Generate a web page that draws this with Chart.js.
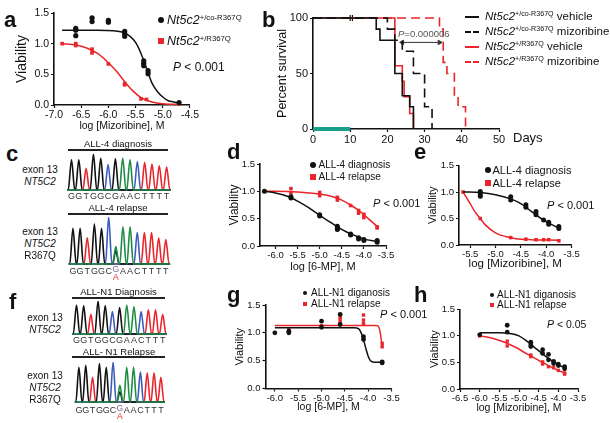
<!DOCTYPE html>
<html>
<head>
<meta charset="utf-8">
<script src="https://cdn.jsdelivr.net/npm/chart.js@4"></script>
<style>
  body { margin: 0; width: 610px; height: 423px; position: relative; overflow: hidden; background: #fff;
         font-family: "Liberation Sans", Arial, sans-serif; color: #111; }
  canvas { position: absolute; }
  .t { position: absolute; white-space: nowrap; line-height: 1; }
  .t sup { font-size: .62em; vertical-align: baseline; position: relative; top: -.55em; }
  .mk, .rule, .seg { position: absolute; }
</style>
</head>
<body>
<script>
/**
 * Nt5c2 R367Q figure - panels a to h
 */
Chart.defaults.font.family = '"Liberation Sans", Arial, sans-serif';
Chart.defaults.color = '#111';
Chart.defaults.animation = false;

const BLACK = '#111';
const RED = '#e8262b';

// ---- panel a: mizoribine, mouse cells ----
const aTicksX = [-7.0, -6.5, -6.0, -5.5, -5.0, -4.5];
const viaTicks = [0, 0.5, 1.0, 1.5];
const aCoDose = [-6.6, -6.3, -6.0, -5.7, -5.35, -5.27, -4.7];
const aCoVia = [[1.25, 1.22, 1.13], [1.42, 1.36], [1.38, 1.35], [1.2, 1.16, 1.12], [0.72, 0.68, 0.64], [0.56, 0.51], [0.04]];
const aCoFitX = [-6.85, -6.2, -5.9, -5.75, -5.6, -5.5, -5.4, -5.3, -5.2, -5.1, -5.0, -4.9, -4.8, -4.7];
const aCoFitY = [1.22, 1.22, 1.21, 1.19, 1.12, 1.02, 0.84, 0.6, 0.36, 0.22, 0.13, 0.07, 0.05, 0.03];
const aMutDose = [-6.85, -6.6, -6.3, -6.0, -5.7, -5.4, -5.3, -4.7];
const aMutVia = [[1.0], [1.0, 0.97], [0.91, 0.85], [0.67], [0.35, 0.33], [0.1], [0.09], [0.02]];
const aMutFitX = [-6.85, -6.6, -6.4, -6.2, -6.0, -5.85, -5.7, -5.55, -5.4, -5.2, -5.0, -4.7];
const aMutFitY = [1.0, 0.98, 0.93, 0.84, 0.69, 0.55, 0.38, 0.23, 0.12, 0.05, 0.02, 0.01];

// ---- panel b: survival ----
const bTicksX = [0, 10, 20, 30, 40, 50];
const bTicksY = [0, 50, 100];
const coVehDays = [0, 17, 18, 22, 24, 26, 27];
const coVehSurv = [100, 90, 80, 50, 30, 20, 0];
const coMizDays = [0, 20, 22, 24, 27, 30, 32];
const coMizSurv = [100, 90, 80, 70, 50, 20, 0];
const mutVehDays = [0, 22, 24, 24.5, 26, 27];
const mutVehSurv = [100, 57, 43, 29, 14, 0];
const mutMizDays = [0, 34, 35, 36, 38, 39, 41];
const mutMizSurv = [100, 90, 60, 50, 30, 20, 0];
const censorDays = [10, 10.6];
const treatDays = [0, 10];
const pArrowDays = [24, 34];
const pArrowSurv = 78;

// ---- panel d: ALL-4, 6-MP ----
const dTicksX = [-6.0, -5.5, -5.0, -4.5, -4.0, -3.5];
const dDose = [-6.25, -5.65, -5.0, -4.6, -4.3, -4.12, -4.0, -3.7];
const dDxVia = [[1.0], [0.9, 0.88], [0.57, 0.55], [0.36, 0.32, 0.3], [0.22, 0.2], [0.15, 0.13], [0.12, 0.1], [0.1, 0.07]];
const dDxFitX = [-6.25, -6.0, -5.7, -5.5, -5.25, -5.0, -4.75, -4.6, -4.4, -4.2, -4.0, -3.7];
const dDxFitY = [1.0, 0.97, 0.9, 0.82, 0.7, 0.56, 0.43, 0.35, 0.26, 0.19, 0.13, 0.08];
const dRelVia = [[1.0], [1.05, 0.97], [0.98, 0.92], [0.89, 0.84], [0.74], [0.65, 0.6], [0.58, 0.52], [0.35, 0.33]];
const dRelFitX = [-6.25, -6.0, -5.5, -5.0, -4.7, -4.5, -4.3, -4.1, -3.9, -3.7];
const dRelFitY = [1.0, 1.0, 0.99, 0.95, 0.9, 0.84, 0.75, 0.64, 0.5, 0.36];

// ---- panel e: ALL-4, mizoribine ----
const eTicksX = [-5.5, -5.0, -4.5, -4.0, -3.5];
const eDxDose = [-5.3, -4.7, -4.4, -4.2, -4.05, -3.95, -3.75];
const eDxVia = [[1.01, 0.96, 0.92], [0.91, 0.85], [0.76, 0.71], [0.63, 0.57], [0.47], [0.43, 0.39], [0.35, 0.31]];
const eDxFitX = [-5.64, -5.3, -5.0, -4.7, -4.5, -4.3, -4.1, -3.9, -3.75];
const eDxFitY = [1.0, 0.99, 0.95, 0.87, 0.78, 0.64, 0.5, 0.39, 0.32];
const eRelDose = [-5.64, -5.3, -4.7, -4.4, -4.2, -4.05, -3.95, -3.75];
const eRelVia = [[1.0], [0.5], [0.14], [0.11], [0.1], [0.1], [0.1], [0.08]];
const eRelFitX = [-5.64, -5.5, -5.4, -5.3, -5.2, -5.0, -4.8, -4.6, -4.3, -3.75];
const eRelFitY = [1.0, 0.78, 0.62, 0.5, 0.38, 0.23, 0.16, 0.12, 0.1, 0.09];

// ---- panel g: ALL-N1, 6-MP ----
const gTicksX = [-6.0, -5.5, -5.0, -4.5, -4.0, -3.5];
const gDxDose = [-6.0, -5.7, -5.0, -4.6, -4.1, -3.7];
const gDxVia = [[1.0], [1.03, 1.0], [1.21, 1.1], [1.33, 1.15], [0.93, 0.88], [0.48, 0.46]];
const gDxFitX = [-6.0, -4.3, -4.2, -4.15, -4.1, -4.05, -4.0, -3.95, -3.85, -3.7];
const gDxFitY = [1.09, 1.09, 1.07, 1.0, 0.88, 0.72, 0.58, 0.5, 0.47, 0.47];
const gRelDose = [-5.7, -5.0, -4.6, -4.1, -3.7];
const gRelVia = [[1.06], [1.13], [1.28, 1.24, 1.19], [1.32, 1.23, 1.17], [0.81, 0.75]];
const gRelFitX = [-6.0, -3.82, -3.77, -3.74, -3.72, -3.7];
const gRelFitY = [1.13, 1.13, 1.1, 1.0, 0.88, 0.78];

// ---- panel h: ALL-N1, mizoribine ----
const hTicksX = [-6.5, -6.0, -5.5, -5.0, -4.5, -4.0, -3.5];
const hDose = [-6.0, -5.3, -4.7, -4.4, -4.25, -4.12, -4.0, -3.84];
const hDxVia = [[1.02], [1.2, 1.07], [0.88, 0.83, 0.8], [0.74, 0.67], [0.65, 0.55], [0.52, 0.48], [0.47, 0.44], [0.42, 0.38]];
const hDxFitX = [-6.0, -5.5, -5.2, -5.0, -4.8, -4.6, -4.4, -4.2, -4.0, -3.84];
const hDxFitY = [1.06, 1.06, 1.04, 1.0, 0.9, 0.78, 0.66, 0.55, 0.46, 0.4];
const hRelVia = [[1.0], [0.9, 0.81], [0.64, 0.61], [0.51, 0.47], [0.42], [0.4], [0.35], [0.3, 0.28]];
const hRelFitX = [-6.0, -5.7, -5.4, -5.1, -4.8, -4.5, -4.2, -4.0, -3.84];
const hRelFitY = [1.0, 0.96, 0.89, 0.79, 0.66, 0.54, 0.42, 0.35, 0.3];

// ---- panels c and f: sequencing traces (relative peak heights) ----
const c4DxSeq = 'GGTGGCGAACTTTT';
const c4DxPeaks = [0.84, 0.84, 0.6, 1.0, 0.88, 0.71, 0.87, 0.88, 0.84, 0.79, 0.77, 0.72, 0.67, 0.64];
const c4RelSeq = 'GGTGGCAAACTTTT';
const c4RelPeaks = [0.76, 0.76, 0.56, 0.85, 0.76, 1.0, 0.37, 0.79, 0.79, 0.67, 0.67, 0.67, 0.55, 0.52];
const c4RelMinor = [[6, 'G', 0.28]];
const n1DxSeq = 'GGTGGCGAACTTT';
const n1DxPeaks = [0.88, 0.86, 0.6, 1.0, 0.86, 0.68, 0.8, 0.88, 0.83, 0.68, 0.73, 0.73, 0.6];
const n1RelSeq = 'GGTGGCAAACTTT';
const n1RelPeaks = [0.87, 0.92, 0.62, 0.96, 0.87, 1.0, 0.42, 0.87, 0.87, 0.75, 0.73, 0.73, 0.62];
const n1RelMinor = [[6, 'G', 0.25]];
const mixedIndex = 6;

const BASE_COLORS = { A: '#1f8c45', C: '#3b5bbd', T: '#e8262b', G: '#111' };

// ---------- helpers ----------
function addCanvas(left, top, w, h) {
    const c = document.createElement('canvas');
    c.width = w; c.height = h;
    c.style.left = left + 'px'; c.style.top = top + 'px';
    c.style.width = w + 'px'; c.style.height = h + 'px';
    document.body.appendChild(c);
    return c;
}

function txt(html, x, cy, size, extra) {
    const d = document.createElement('div');
    d.className = 't';
    d.innerHTML = html;
    d.style.left = x + 'px';
    d.style.top = (cy - size / 2) + 'px';
    d.style.fontSize = size + 'px';
    if (extra) Object.assign(d.style, extra);
    document.body.appendChild(d);
    return d;
}

function mark(x, y, r, color, round) {
    const d = document.createElement('div');
    d.className = 'mk';
    Object.assign(d.style, {
        left: (x - r) + 'px', top: (y - r) + 'px', width: 2 * r + 'px', height: 2 * r + 'px',
        background: color, borderRadius: round ? '50%' : '0'
    });
    document.body.appendChild(d);
}

function rule(x1, x2, y) {
    const d = document.createElement('div');
    d.className = 'rule';
    Object.assign(d.style, { left: x1 + 'px', top: (y - 0.75) + 'px', width: (x2 - x1) + 'px', height: '1.5px', background: '#222' });
    document.body.appendChild(d);
}

function seg(x1, x2, y, color, w) {
    const d = document.createElement('div');
    d.className = 'seg';
    Object.assign(d.style, { left: x1 + 'px', top: (y - w / 2) + 'px', width: (x2 - x1) + 'px', height: w + 'px', background: color });
    document.body.appendChild(d);
}

function axisX(L) {
    return {
        type: 'linear', min: L.xMin, max: L.xMax,
        afterBuildTicks: sc => { sc.ticks = L.xTicks.map(v => ({ value: v })); },
        afterFit: sc => { sc.height = L.xH; },
        border: { color: BLACK, width: 1.6 },
        grid: { drawOnChartArea: false, drawTicks: true, tickLength: 3, tickColor: BLACK, tickWidth: 1.2 },
        ticks: { autoSkip: false, maxRotation: 0, padding: 1, font: { size: L.tick }, color: BLACK,
                 callback: v => L.xFmt ? L.xFmt(v) : v.toFixed(1) },
        title: { display: !!L.xTitle, text: L.xTitle, font: { size: L.xTitleSize }, color: BLACK,
                 padding: { top: 0, bottom: L.xTitlePB } }
    };
}

function axisY(L) {
    return {
        type: 'linear', min: L.yMin, max: L.yMax,
        afterBuildTicks: sc => { sc.ticks = L.yTicks.map(v => ({ value: v })); },
        afterFit: sc => { sc.width = L.yW; },
        border: { color: BLACK, width: 1.6 },
        grid: { drawOnChartArea: false, drawTicks: true, tickLength: 3, tickColor: BLACK, tickWidth: 1.2 },
        ticks: { autoSkip: false, padding: 2, font: { size: L.tick }, color: BLACK,
                 callback: v => L.yFmt ? L.yFmt(v) : v.toFixed(1) },
        title: { display: true, text: L.yTitle, font: { size: L.yTitleSize }, color: BLACK,
                 padding: { top: L.yTitlePT, bottom: 0 } }
    };
}

function baseOptions(L) {
    return {
        responsive: false,
        devicePixelRatio: 1,
        layout: { padding: { left: 0, top: L.padT, right: L.padR, bottom: 0 } },
        plugins: { legend: { display: false }, tooltip: { enabled: false } },
        scales: { x: axisX(L), y: axisY(L) }
    };
}

function doseChart(L, series) {
    const datasets = [];
    series.forEach(s => {
        const pts = [];
        s.dose.forEach((x, i) => s.via[i].forEach(y => pts.push({ x, y })));
        datasets.push({
            data: pts, showLine: false, pointStyle: s.shape, pointRadius: s.r,
            backgroundColor: s.color, borderColor: s.color, borderWidth: 0, clip: false
        });
        datasets.push({
            data: s.fitX.map((x, i) => ({ x, y: s.fitY[i] })), showLine: true,
            borderColor: s.color, borderWidth: 1.5, pointRadius: 0,
            cubicInterpolationMode: 'monotone', clip: false
        });
    });
    const L2 = Object.assign({ yMin: 0, yMax: 1.5, yTicks: viaTicks, yTitle: 'Viability' }, L);
    return new Chart(addCanvas(L.left, L.top, L.w, L.h), {
        type: 'scatter', data: { datasets }, options: baseOptions(L2)
    });
}

function traceChart(left, top, w, plotH, labH, seq, peaks, minor, labels, labPad) {
    const n = seq.length;
    const datasets = ['A', 'G', 'C', 'T'].map(b => {
        const pts = [{ x: -0.6, y: 0 }];
        for (let i = 0; i < n; i++) {
            let h = seq[i] === b ? peaks[i] : 0;
            minor.forEach(m => { if (m[0] === i && m[1] === b) h = m[2]; });
            if (h > 0) pts.push({ x: i - 0.45, y: 0 }, { x: i, y: h }, { x: i + 0.45, y: 0 });
        }
        pts.push({ x: n - 0.4, y: 0 });
        return { data: pts, showLine: true, borderColor: BASE_COLORS[b], borderWidth: 1.6,
                 pointRadius: 0, cubicInterpolationMode: 'monotone', clip: false };
    });
    const ticks = labels.map((s, i) => ({ value: i }));
    return new Chart(addCanvas(left, top, w, plotH + labH), {
        type: 'scatter',
        data: { datasets },
        options: {
            responsive: false, devicePixelRatio: 1,
            layout: { padding: 0 },
            plugins: { legend: { display: false }, tooltip: { enabled: false } },
            scales: {
                x: { type: 'linear', min: -0.6, max: n - 0.4,
                     afterBuildTicks: sc => { sc.ticks = ticks; },
                     afterFit: sc => { sc.height = labH; },
                     border: { display: false }, grid: { display: false, drawTicks: false },
                     ticks: { autoSkip: false, maxRotation: 0, padding: labPad, font: { size: 9 }, color: '#333',
                              callback: (v, i) => labels[i] } },
                y: { display: false, min: 0, max: 1.0 }
            }
        }
    });
}

function mixedLabel(chart, left, cy) {
    const x = left + chart.scales.x.getPixelForValue(mixedIndex);
    txt('G', x, cy - 3, 8.5, { transform: 'translateX(-50%)', color: '#7a6a8a' });
    txt('A', x, cy + 5, 8.5, { transform: 'translateX(-50%)', color: RED });
}

// ---------- panel a ----------
doseChart({ left: 0, top: 0, w: 200, h: 135, yW: 54, padT: 13, padR: 10, xH: 30,
            xMin: -7.0, xMax: -4.5, xTicks: aTicksX, tick: 10.5,
            xTitle: 'log [Mizoribine], M', xTitleSize: 10.5, xTitlePB: 2.5, yTitleSize: 14, yTitlePT: 13.5 },
    [{ dose: aCoDose, via: aCoVia, fitX: aCoFitX, fitY: aCoFitY, color: BLACK, shape: 'circle', r: 2.6 },
     { dose: aMutDose, via: aMutVia, fitX: aMutFitX, fitY: aMutFitY, color: RED, shape: 'rect', r: 2.6 }]);

// ---------- panel b ----------
(function () {
    const L = { padT: 18, padR: 21, yW: 43, xH: 16, xMin: 0, xMax: 50, xTicks: bTicksX,
                yMin: 0, yMax: 100, yTicks: bTicksY, tick: 11, xFmt: v => v, yFmt: v => v,
                yTitle: 'Percent survival', yTitleSize: 12.5, yTitlePT: 5.5 };
    const km = (days, surv, color, dash) => ({
        data: days.map((x, i) => ({ x, y: surv[i] })), showLine: true, stepped: true,
        borderColor: color, borderWidth: 1.6, borderDash: dash, pointRadius: 0, clip: false
    });
    const datasets = [
        km(coVehDays, coVehSurv, BLACK, []),
        km(coMizDays, coMizSurv, BLACK, [9, 5]),
        km(mutVehDays, mutVehSurv, RED, []),
        km(mutMizDays, mutMizSurv, RED, [9, 5]),
        { data: treatDays.map(x => ({ x, y: 0 })), showLine: true, borderColor: '#1a9e8c',
          borderWidth: 4, pointRadius: 0, clip: false },
        { data: censorDays.map(x => ({ x, y: 100 })), showLine: false, pointStyle: 'line',
          rotation: 90, pointRadius: 3, borderColor: BLACK, borderWidth: 1.2, clip: false },
        { data: pArrowDays.map(x => ({ x, y: pArrowSurv })), showLine: true, borderColor: '#333',
          borderWidth: 1, pointStyle: 'triangle', pointRadius: 2.6, backgroundColor: '#333',
          rotation: c => c.dataIndex === 0 ? -90 : 90, clip: false }
    ];
    const opts = baseOptions(L);
    delete opts.scales.x.title.text;
    new Chart(addCanvas(270, 0, 250, 145), { type: 'scatter', data: { datasets }, options: opts });
})();

// ---------- panel d ----------
doseChart({ left: 225, top: 148, w: 185, h: 128, yW: 35, padT: 16, padR: 24, xH: 30,
            xMin: -6.35, xMax: -3.5, xTicks: dTicksX, tick: 9.5,
            xTitle: 'log [6-MP], M', xTitleSize: 11, xTitlePB: 2.4, yTitleSize: 12, yTitlePT: 2.8 },
    [{ dose: dDose, via: dDxVia, fitX: dDxFitX, fitY: dDxFitY, color: BLACK, shape: 'circle', r: 2.5 },
     { dose: dDose, via: dRelVia, fitX: dRelFitX, fitY: dRelFitY, color: RED, shape: 'rect', r: 2.5 }]);

// ---------- panel e ----------
doseChart({ left: 425, top: 148, w: 165, h: 128, yW: 34, padT: 17.5, padR: 18.5, xH: 31,
            xMin: -5.72, xMax: -3.5, xTicks: eTicksX, tick: 9.5,
            xTitle: 'log [Mizoribine], M', xTitleSize: 11.5, xTitlePB: 5.5, yTitleSize: 11, yTitlePT: 1.4 },
    [{ dose: eDxDose, via: eDxVia, fitX: eDxFitX, fitY: eDxFitY, color: BLACK, shape: 'circle', r: 2.5 },
     { dose: eRelDose, via: eRelVia, fitX: eRelFitX, fitY: eRelFitY, color: RED, shape: 'rect', r: 2.5 }]);

// ---------- panel g ----------
doseChart({ left: 228, top: 290, w: 175, h: 133, yW: 37.5, padT: 15, padR: 11.5, xH: 34.5,
            xMin: -6.2, xMax: -3.5, xTicks: gTicksX, tick: 9.5,
            xTitle: 'log [6-MP], M', xTitleSize: 10.5, xTitlePB: 9.5, yTitleSize: 11, yTitlePT: 5.4 },
    [{ dose: gDxDose, via: gDxVia, fitX: gDxFitX, fitY: gDxFitY, color: BLACK, shape: 'circle', r: 2.4 },
     { dose: gRelDose, via: gRelVia, fitX: gRelFitX, fitY: gRelFitY, color: RED, shape: 'rect', r: 2.4 }]);

// ---------- panel h ----------
doseChart({ left: 425, top: 292, w: 170, h: 131, yW: 35, padT: 17.3, padR: 17, xH: 34,
            xMin: -6.5, xMax: -3.5, xTicks: hTicksX, tick: 9.5,
            xTitle: 'log [Mizoribine], M', xTitleSize: 10.5, xTitlePB: 8.7, yTitleSize: 11, yTitlePT: 3.4 },
    [{ dose: hDose, via: hDxVia, fitX: hDxFitX, fitY: hDxFitY, color: BLACK, shape: 'circle', r: 2.4 },
     { dose: hDose, via: hRelVia, fitX: hRelFitX, fitY: hRelFitY, color: RED, shape: 'rect', r: 2.4 }]);

// ---------- panels c and f: traces ----------
const relLabels = s => s.split('').map((b, i) => i === mixedIndex ? '' : b);
traceChart(67, 154, 104, 36, 12, c4DxSeq, c4DxPeaks, [], c4DxSeq.split(''), 1);
const c4Rel = traceChart(67, 217, 104, 47, 14, c4RelSeq, c4RelPeaks, c4RelMinor, relLabels(c4RelSeq), 2.5);
mixedLabel(c4Rel, 67, 272);
traceChart(72, 301, 95, 33, 12, n1DxSeq, n1DxPeaks, [], n1DxSeq.split(''), 1);
const n1Rel = traceChart(72, 362, 95, 40, 14, n1RelSeq, n1RelPeaks, n1RelMinor, relLabels(n1RelSeq), 3.5);
mixedLabel(n1Rel, 72, 411);

rule(68, 168, 150); rule(68, 168, 214);
rule(72, 165, 298); rule(72, 165, 357);
txt('ALL-4 diagnosis', 118, 144, 9.5, { transform: 'translateX(-50%)' });
txt('ALL-4 relapse', 118, 208, 9.5, { transform: 'translateX(-50%)' });
txt('ALL-N1 Diagnosis', 118.5, 292, 9.5, { transform: 'translateX(-50%)' });
txt('ALL- N1 Relapse', 119, 352, 9.5, { transform: 'translateX(-50%)' });

txt('exon 13', 40, 170, 10, { transform: 'translateX(-50%)' });
txt('<i>NT5C2</i>', 40, 182, 10, { transform: 'translateX(-50%)' });
txt('exon 13', 40, 232, 10, { transform: 'translateX(-50%)' });
txt('<i>NT5C2</i>', 40, 244, 10, { transform: 'translateX(-50%)' });
txt('R367Q', 40, 255.5, 10, { transform: 'translateX(-50%)' });
txt('exon 13', 45, 318, 10, { transform: 'translateX(-50%)' });
txt('<i>NT5C2</i>', 45, 330, 10, { transform: 'translateX(-50%)' });
txt('exon 13', 45, 376, 10, { transform: 'translateX(-50%)' });
txt('<i>NT5C2</i>', 45, 388, 10, { transform: 'translateX(-50%)' });
txt('R367Q', 45, 400, 10, { transform: 'translateX(-50%)' });

// ---------- legends and notes ----------
mark(161, 20, 3, BLACK, true);
txt('<i>Nt5c2</i><sup>+/co-R367Q</sup>', 167, 20, 12.5);
mark(161, 41, 3, RED, false);
txt('<i>Nt5c2</i><sup>+/R367Q</sup>', 167, 41, 12.5);
txt('<i>P</i> &lt; 0.001', 173, 67, 12);

const bLegend = [
    ['+/co-R367Q', ' vehicle', BLACK, false],
    ['+/co-R367Q', ' mizoribine', BLACK, true],
    ['+/R367Q', ' vehicle', RED, false],
    ['+/R367Q', ' mizoribine', RED, true]
];
bLegend.forEach((r, i) => {
    const y = 17 + i * 15;
    if (r[3]) { seg(465, 470.5, y, r[2], 1.8); seg(473, 478.5, y, r[2], 1.8); }
    else seg(465, 478.5, y, r[2], 1.8);
    txt('<i>Nt5c2</i><sup>' + r[0] + '</sup>' + r[1], 485, y, 11.5);
});
txt('Days', 513, 137, 13);
txt('<i>P</i>=0.000006', 398, 34, 9.5, { color: '#555' });

mark(313, 165, 3, BLACK, true);
txt('ALL-4 diagnosis', 318.5, 165, 10);
mark(313, 177, 3, RED, false);
txt('ALL-4 relapse', 318.5, 177, 10);
txt('<i>P</i> &lt; 0.001', 373, 203, 11);

mark(487.5, 170, 3, BLACK, true);
txt('ALL-4 diagnosis', 492.5, 170, 11);
mark(487.5, 183, 3, RED, false);
txt('ALL-4 relapse', 492.5, 183, 11);
txt('<i>P</i> &lt; 0.001', 547, 205, 11);

mark(305, 293, 2, BLACK, true);
txt('ALL-N1 diganosis', 311, 293, 10);
mark(305, 304, 2, RED, false);
txt('ALL-N1 relapse', 311, 304, 10);
txt('<i>P</i> &lt; 0.001', 380, 314, 11);

mark(492, 295, 2, BLACK, true);
txt('ALL-N1 diganosis', 497, 295, 10);
mark(492, 305, 2, RED, false);
txt('ALL-N1 relapse', 497, 305, 10);
txt('<i>P</i> &lt; 0.05', 547, 324, 10.5);

// panel letters
[['a', 4, 20.4], ['b', 262, 20.4], ['c', 6, 154.4], ['d', 227, 152.4],
 ['e', 414, 152.4], ['f', 9, 302.4], ['g', 227, 295.4], ['h', 414, 295.4]]
    .forEach(p => txt(p[0], p[1], p[2], 22, { fontWeight: 'bold' }));
</script>
</body>
</html>
